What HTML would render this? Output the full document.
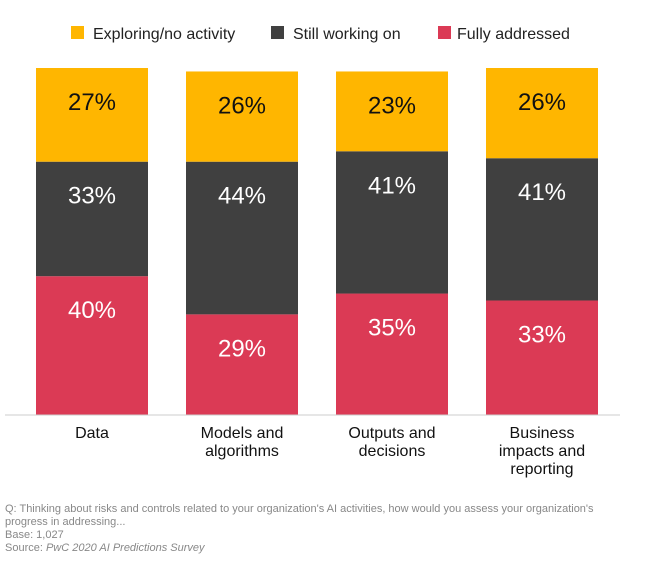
<!DOCTYPE html>
<html><head><meta charset="utf-8"><style>
body{margin:0;background:#fff;font-family:"Liberation Sans",sans-serif;}
svg{display:block}
</style></head><body>
<svg id="chart" width="646" height="570">
<g>
<rect x="71" y="26" width="13" height="13" fill="#FFB600"/>
<text x="93" y="39" font-size="16" fill="#222">Exploring/no activity</text>
<rect x="271" y="26" width="13" height="13" fill="#404040"/>
<text x="293" y="39" font-size="16" fill="#222">Still working on</text>
<rect x="438" y="26" width="13" height="13" fill="#DB3A55"/>
<text x="457" y="39" font-size="16" fill="#222">Fully addressed</text>
</g>
<g id="bars"></g>
<line x1="5" y1="415" x2="620" y2="415" stroke="#ccc" stroke-width="1"/>
<g id="cats"></g>
<g font-size="11" fill="#888">
<text x="5" y="512">Q: Thinking about risks and controls related to your organization's AI activities, how would you assess your organization's</text>
<text x="5" y="525">progress in addressing...</text>
<text x="5" y="538">Base: 1,027</text>
<text x="5" y="551">Source: <tspan font-style="italic">PwC 2020 AI Predictions Survey</tspan></text>
</g>
</svg>
<script>
const categories = [["Data"],["Models and","algorithms"],["Outputs and","decisions"],["Business","impacts and","reporting"]];
const fullyAddressed = [40, 29, 35, 33];
const stillWorking = [33, 44, 41, 41];
const exploring = [27, 26, 23, 26];
const NS = "http://www.w3.org/2000/svg";
const y0 = 415, plotH = 347, x0 = 36, step = 150, bw = 112;
const yScale = v => v / 100 * plotH;
const xScale = i => x0 + i * step;
const series = [
  {name:"fully-addressed", vals:fullyAddressed, color:"#DB3A55", text:"#fff"},
  {name:"still-working", vals:stillWorking, color:"#404040", text:"#fff"},
  {name:"exploring", vals:exploring, color:"#FFB600", text:"#111"}
];
const bars = document.getElementById("bars");
const cats = document.getElementById("cats");
categories.forEach((c, i) => {
  let base = 0;
  series.forEach(s => {
    const v = s.vals[i];
    const top = y0 - yScale(base + v);
    const r = document.createElementNS(NS, "rect");
    r.setAttribute("x", xScale(i));
    r.setAttribute("y", top);
    r.setAttribute("width", bw);
    r.setAttribute("height", yScale(v));
    r.setAttribute("fill", s.color);
    
    
    bars.appendChild(r);
    const t = document.createElementNS(NS, "text");
    t.setAttribute("x", xScale(i) + bw / 2);
    t.setAttribute("y", top + 42);
    t.setAttribute("text-anchor", "middle");
    t.setAttribute("font-size", "24");
    t.setAttribute("fill", s.text);
    t.textContent = v + "%";
    
    
    bars.appendChild(t);
    base += v;
  });
  c.forEach((line, j) => {
    const t = document.createElementNS(NS, "text");
    t.setAttribute("x", xScale(i) + bw / 2);
    t.setAttribute("y", 438 + j * 18);
    t.setAttribute("text-anchor", "middle");
    t.setAttribute("font-size", "16");
    t.setAttribute("fill", "#111");
    t.textContent = line;
    
    
    cats.appendChild(t);
  });
});
</script>
</body></html>
